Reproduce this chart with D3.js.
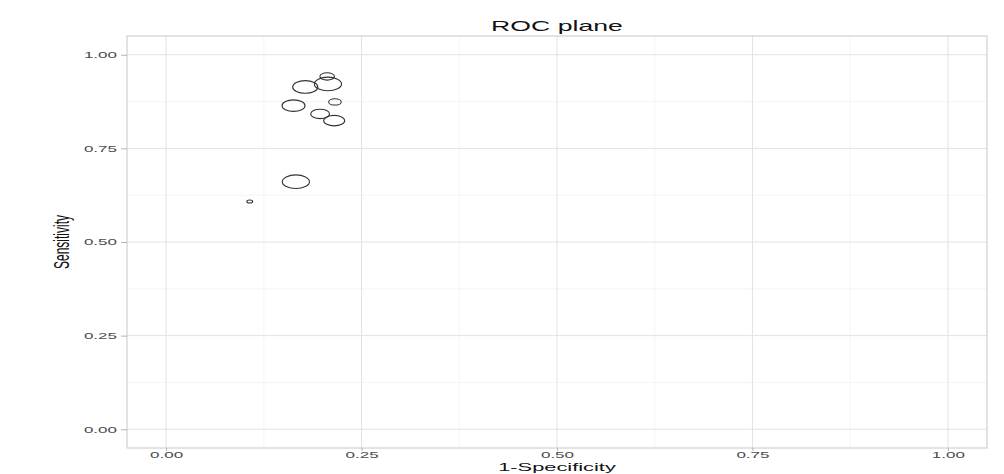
<!DOCTYPE html>
<html>
<head>
<meta charset="utf-8">
<script src="https://cdnjs.cloudflare.com/ajax/libs/d3/7.8.5/d3.min.js"></script>
<style>
  body { margin: 0; background: #fff; }
  svg { display: block; font-family: "Liberation Sans", Arial, sans-serif; }
</style>
</head>
<body>
<svg width="1004" height="474"></svg>
<script>
// study points on the ROC plane
var fpr = [0.206, 0.207, 0.178, 0.216, 0.163, 0.197, 0.215, 0.166, 0.107];
var sens = [0.942, 0.922, 0.914, 0.874, 0.864, 0.842, 0.824, 0.661, 0.608];
var weight = [12, 42, 36, 9, 30, 20, 25, 42, 2];
var ticks = [0, 0.25, 0.5, 0.75, 1];
var minorTicks = [0.125, 0.375, 0.625, 0.875];

var svg = d3.select("svg"),
    stretch = 1.85, // picture is stretched horizontally
    panel = { left: 127, right: 987, top: 36, bottom: 448 };

var x = d3.scaleLinear().domain([-0.05, 1.05]).range([panel.left, panel.right]),
    y = d3.scaleLinear().domain([-0.05, 1.05]).range([panel.bottom, panel.top]),
    r = d3.scaleSqrt().domain([0, d3.max(weight)]).range([0, 6.8]);

var grid = svg.append("g");

grid.selectAll(".minor-x").data(minorTicks).enter().append("line")
    .attr("x1", x).attr("x2", x)
    .attr("y1", panel.top).attr("y2", panel.bottom)
    .attr("stroke", "#eeeeee").attr("stroke-width", 0.6);
grid.selectAll(".minor-y").data(minorTicks).enter().append("line")
    .attr("y1", y).attr("y2", y)
    .attr("x1", panel.left).attr("x2", panel.right)
    .attr("stroke", "#eeeeee").attr("stroke-width", 0.6);
grid.selectAll(".major-x").data(ticks).enter().append("line")
    .attr("x1", x).attr("x2", x)
    .attr("y1", panel.top).attr("y2", panel.bottom)
    .attr("stroke", "#e2e2e2").attr("stroke-width", 1);
grid.selectAll(".major-y").data(ticks).enter().append("line")
    .attr("y1", y).attr("y2", y)
    .attr("x1", panel.left).attr("x2", panel.right)
    .attr("stroke", "#e2e2e2").attr("stroke-width", 1);

// panel border
svg.append("rect")
    .attr("x", panel.left).attr("y", panel.top)
    .attr("width", panel.right - panel.left)
    .attr("height", panel.bottom - panel.top)
    .attr("fill", "none").attr("stroke", "#c8c8c8").attr("stroke-width", 1);

// axes
var fmt = d3.format(".2f");

var xAxis = svg.append("g")
    .attr("transform", "translate(0," + panel.bottom + ")")
    .call(d3.axisBottom(x).tickValues(ticks).tickFormat(fmt).tickSize(3).tickPadding(3));
var yAxis = svg.append("g")
    .attr("transform", "translate(" + panel.left + ",0)")
    .call(d3.axisLeft(y).tickValues(ticks).tickFormat(fmt).tickSize(6).tickPadding(4));

[xAxis, yAxis].forEach(function(a) {
    a.select(".domain").remove();
    a.selectAll(".tick line").attr("stroke", "#b3b3b3");
    a.selectAll(".tick text")
        .attr("fill", "#4d4d4d")
        .attr("font-size", 9.2)
        .attr("font-family", "Liberation Sans, Arial, sans-serif");
});

// stretch tick labels horizontally around their anchor
xAxis.selectAll(".tick text")
    .attr("dy", null).attr("y", 10)
    .attr("transform", "scale(" + stretch + ",1)");
yAxis.selectAll(".tick text")
    .attr("x", null).attr("dy", "0.32em")
    .attr("transform", "translate(-10,0) scale(" + stretch + ",1)");

// points as ellipses (stretched circles)
svg.append("g").selectAll("ellipse")
    .data(fpr)
    .enter().append("ellipse")
    .attr("cx", function(d) { return x(d); })
    .attr("cy", function(d, i) { return y(sens[i]); })
    .attr("rx", function(d, i) { return r(weight[i]) * 2.0; })
    .attr("ry", function(d, i) { return r(weight[i]); })
    .attr("fill", "none")
    .attr("stroke", "#333")
    .attr("stroke-width", 1.1);

// titles
svg.append("text")
    .attr("transform", "translate(" + ((panel.left + panel.right) / 2) + ",31) scale(" + stretch + ",1)")
    .attr("text-anchor", "middle")
    .attr("font-size", 14.4)
    .attr("fill", "#111")
    .text("ROC plane");

svg.append("text")
    .attr("transform", "translate(" + ((panel.left + panel.right) / 2) + ",470.5) scale(" + stretch + ",1)")
    .attr("text-anchor", "middle")
    .attr("font-size", 11.8)
    .attr("fill", "#111")
    .text("1-Specificity");

svg.append("text")
    .attr("transform", "translate(69," + ((panel.top + panel.bottom) / 2) + ") scale(" + stretch + ",1) rotate(-90)")
    .attr("text-anchor", "middle")
    .attr("font-size", 12)
    .attr("fill", "#111")
    .text("Sensitivity");
</script>
</body>
</html>
